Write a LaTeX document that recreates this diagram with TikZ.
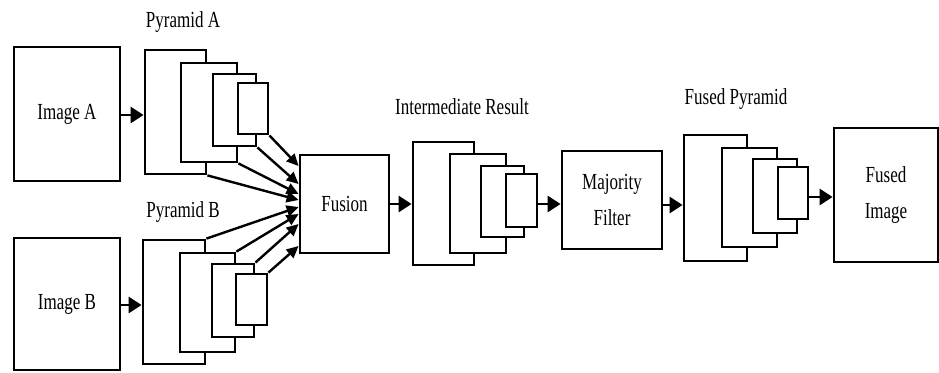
\documentclass[tikz,border=0pt]{standalone}
\usepackage{fontspec}
\setmainfont{Liberation Serif}[FakeStretch=0.74]
\usetikzlibrary{arrows.meta}
\begin{document}
\begin{tikzpicture}[x=1pt,y=-1pt,
  every node/.style={font=\fontsize{23}{36}\selectfont},
  box/.style={draw, line width=2.8pt, fill=white, inner sep=0pt, align=center},
  layer/.style={draw, line width=2.8pt, fill=white, inner sep=0pt},
  label/.style={inner sep=0pt},
  flow/.style={line width=2.8pt, -{Triangle[length=13pt,width=16pt]}},
  fan/.style={line width=2.4pt, -{Triangle[length=12pt,width=11pt]}}]
\useasboundingbox (0,0) rectangle (939,372);

% input images
\node[box, minimum width=106pt, minimum height=134pt] (imgA) at (67,114) {Image A};
\node[box, minimum width=106pt, minimum height=132pt] (imgB) at (67,304) {Image B};

% pyramid A
\node[layer, minimum width=61pt, minimum height=124pt] (A1) at (175.5,112) {};
\node[layer, minimum width=56pt, minimum height=99pt]  (A2) at (209,112.5) {};
\node[layer, minimum width=43pt, minimum height=72pt]  (A3) at (234.5,110) {};
\node[layer, minimum width=30pt, minimum height=51pt]  (A4) at (253,108.5) {};
\node[label] (labA) at (183,22) {Pyramid A};

% pyramid B
\node[layer, minimum width=62pt, minimum height=124pt] (B1) at (174,302) {};
\node[layer, minimum width=55pt, minimum height=99pt]  (B2) at (207.5,302.5) {};
\node[layer, minimum width=42pt, minimum height=73pt]  (B3) at (233,300.5) {};
\node[layer, minimum width=31pt, minimum height=51pt]  (B4) at (251.5,299.5) {};
\node[label] (labB) at (183,212) {Pyramid B};

% fusion
\node[box, minimum width=89pt, minimum height=98pt] (fusion) at (344.5,204) {Fusion};

% intermediate result
\node[layer, minimum width=61pt, minimum height=123pt] (I1) at (443.5,203.5) {};
\node[layer, minimum width=56pt, minimum height=99pt]  (I2) at (478,203.5) {};
\node[layer, minimum width=43pt, minimum height=71pt]  (I3) at (502.5,201.5) {};
\node[layer, minimum width=31pt, minimum height=53pt]  (I4) at (521.5,200.5) {};
\node[label] (labI) at (462,107) {Intermediate Result};

% majority filter
\node[box, minimum width=100pt, minimum height=98pt] (maj) at (612,200) {Majority\\Filter};

% fused pyramid
\node[layer, minimum width=63pt, minimum height=126pt] (F1) at (715.5,198) {};
\node[layer, minimum width=55pt, minimum height=99pt]  (F2) at (749.5,197.5) {};
\node[layer, minimum width=44pt, minimum height=74pt]  (F3) at (775,196) {};
\node[layer, minimum width=30pt, minimum height=52pt]  (F4) at (793,193) {};
\node[label] (labF) at (736,99) {Fused Pyramid};

% fused image
\node[box, minimum width=104pt, minimum height=134pt] (out) at (886,195) {Fused\\Image};

% main flow
\draw[flow] ([yshift=-1pt]imgA.east) -- ([yshift=-1pt]imgA.east -| A1.west);
\draw[flow] ([yshift=-1pt]imgB.east) -- ([yshift=-1pt]imgB.east -| B1.west);
\draw[flow] (fusion.east) -- (fusion.east -| I1.west);
\draw[flow] (I4.east |- fusion.east) -- (maj.west |- fusion.east);
\draw[flow] ([yshift=-5pt]maj.east) -- ([yshift=-5pt]maj.east -| F1.west);
\draw[flow] ([yshift=-4pt]F4.east) -- ([yshift=-4pt]F4.east -| out.west);

% pyramid levels into fusion
\draw[fan] (A4.south east) -- ([yshift=38pt]fusion.west);
\draw[fan] (A3.south east) -- ([yshift=20pt]fusion.west);
\draw[fan] (A2.south east) -- ([yshift=10pt]fusion.west);
\draw[fan] (A1.south east) -- ([yshift=4pt]fusion.west);
\draw[fan] (B1.north east) -- ([yshift=-3pt]fusion.west);
\draw[fan] (B2.north east) -- ([yshift=-10pt]fusion.west);
\draw[fan] (B3.north east) -- ([yshift=-20pt]fusion.west);
\draw[fan] (B4.north east) -- ([yshift=-42pt]fusion.west);
\end{tikzpicture}
\end{document}
